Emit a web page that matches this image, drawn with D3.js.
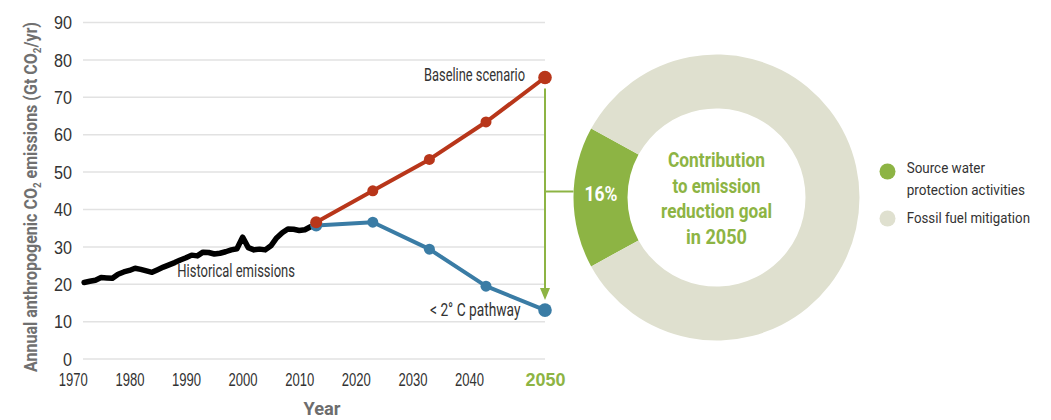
<!DOCTYPE html>
<html>
<head>
<meta charset="utf-8">
<script src="https://cdn.jsdelivr.net/npm/d3@7"></script>
<style>
  html, body { margin: 0; padding: 0; background: #fff; }
  svg { display: block; font-family: "Roboto", "Liberation Sans", sans-serif; }
</style>
</head>
<body>
<svg id="chart" width="1051" height="420"></svg>
<script>
// ---------------- DATA ----------------
const histYears = [1972,1973,1974,1975,1976,1977,1978,1979,1980,1981,1982,1983,1984,1985,1986,1987,1988,1989,1990,1991,1992,1993,1994,1995,1996,1997,1998,1999,2000,2001,2002,2003,2004,2005,2006,2007,2008,2009,2010,2011,2012];
const histValues = [20.5,20.8,21.1,21.8,21.7,21.6,22.7,23.3,23.7,24.3,24.0,23.6,23.2,23.9,24.6,25.2,25.8,26.5,27.1,27.8,27.6,28.6,28.5,28.1,28.3,28.7,29.2,29.5,32.6,29.8,29.2,29.4,29.2,30.3,32.4,33.8,34.8,34.7,34.4,34.6,35.4];
const projYears = [2013, 2023, 2033, 2043, 2050];
const baselineValues = [36.6, 45.0, 53.4, 63.4, 75.3];
const pathwayValues = [35.7, 36.6, 29.4, 19.5, 13.1];
const xTicks = [1970, 1980, 1990, 2000, 2010, 2020, 2030, 2040];
const xHighlightTick = 2050;
const yTicks = [0, 10, 20, 30, 40, 50, 60, 70, 80, 90];
const donutLabels = ["Source water protection activities", "Fossil fuel mitigation"];
const donutValues = [16, 84];
const centerLines = ["Contribution", "to emission", "reduction goal", "in 2050"];

// ---------------- STYLE ----------------
const RED = "#b8361a", BLUE = "#3a7ca5", GREEN = "#8db444", LIGHT = "#dfe0cf";
const svg = d3.select("#chart");
function fit(sel, w) { sel.attr("textLength", w).attr("lengthAdjust", "spacingAndGlyphs"); return sel; }

// scales: the chart compresses the axis after 2043 so that 2050 sits at the end
const x = d3.scaleLinear().domain([1970, 2043, 2050]).range([72.8, 486, 545]);
const y = d3.scaleLinear().domain([0, 90]).range([359.1, 22.5]);

// grid
const gridG = svg.append("g");
gridG.selectAll("line").data(yTicks).join("line")
  .attr("x1", 83).attr("x2", 545)
  .attr("y1", d => y(d)).attr("y2", d => y(d))
  .attr("stroke", "#e2e2e2").attr("stroke-width", 1.5);

// y axis labels
const yAxis = d3.axisLeft(y).tickValues(yTicks).tickSize(0).tickPadding(0);
const yG = svg.append("g").attr("transform", "translate(72,0)").call(yAxis);
yG.select(".domain").remove();
yG.selectAll("text").attr("font-size", 17.5).attr("fill", "#333").attr("font-family", null).attr("dy", "0.35em")
  .each(function(d) { fit(d3.select(this), String(d).length * 9); });

// x axis labels
const xAxis = d3.axisBottom(x).tickValues(xTicks.concat([xHighlightTick])).tickFormat(d3.format("d")).tickSize(0).tickPadding(0);
const xG = svg.append("g").attr("transform", "translate(0,380)").call(xAxis);
xG.select(".domain").remove();
xG.selectAll("text").attr("font-size", 18).attr("fill", "#333").attr("font-family", null).attr("dy", "0.35em")
  .each(function(d) { fit(d3.select(this), 29); });
xG.selectAll("text").filter(d => d === xHighlightTick).attr("fill", GREEN).attr("font-weight", "bold")
  .each(function() { fit(d3.select(this), 40); });

// axis titles
fit(svg.append("text").attr("x", 322).attr("y", 408).attr("dy", "0.35em").attr("text-anchor", "middle")
  .attr("font-size", 19).attr("font-weight", "bold").attr("fill", "#6d6d6d").text("Year"), 37);
const yt = svg.append("text").attr("transform", "translate(31,197) rotate(-90)").attr("dy", "0.35em")
  .attr("text-anchor", "middle").attr("font-size", 18).attr("font-weight", "bold").attr("fill", "#707070");
yt.append("tspan").text("Annual anthropogenic CO");
yt.append("tspan").attr("font-size", 11).attr("dy", "4").text("2");
yt.append("tspan").attr("dy", "-4").text(" emissions (Gt CO");
yt.append("tspan").attr("font-size", 11).attr("dy", "4").text("2");
yt.append("tspan").attr("dy", "-4").text("/yr)");
fit(yt, 350);

// lines
const line = d3.line().x(d => x(d[0])).y(d => y(d[1]));
const hist = histYears.map((yr, i) => [yr, histValues[i]]);
const base = projYears.map((yr, i) => [yr, baselineValues[i]]);
const path2 = projYears.map((yr, i) => [yr, pathwayValues[i]]);

svg.append("path").datum(hist).attr("d", line).attr("fill", "none")
  .attr("stroke", "#000").attr("stroke-width", 5.5).attr("stroke-linejoin", "round").attr("stroke-linecap", "round");

function series(data, color) {
  svg.append("path").datum(data).attr("d", line).attr("fill", "none")
    .attr("stroke", color).attr("stroke-width", 4).attr("stroke-linejoin", "round");
  svg.append("g").selectAll("circle").data(data).join("circle")
    .attr("cx", d => x(d[0])).attr("cy", d => y(d[1]))
    .attr("r", (d, i) => (i === data.length - 1 ? 6.8 : (i === 0 ? 6 : 5.5)))
    .attr("fill", color);
}
series(path2, BLUE);
series(base, RED);

// labels on lines
fit(svg.append("text").attr("x", 525).attr("y", 75).attr("dy", "0.35em").attr("text-anchor", "end")
  .attr("font-size", 18).attr("fill", "#333").text("Baseline scenario"), 101);
fit(svg.append("text").attr("x", 520.5).attr("y", 310).attr("dy", "0.35em").attr("text-anchor", "end")
  .attr("font-size", 18).attr("fill", "#333").text("< 2° C pathway"), 90.5);
fit(svg.append("text").attr("x", 177.3).attr("y", 271).attr("dy", "0.35em").attr("text-anchor", "start")
  .attr("font-size", 18).attr("fill", "#333").text("Historical emissions"), 117.7);

// green arrow
const lastX = x(projYears[projYears.length - 1]);
const yTop = y(baselineValues[baselineValues.length - 1]) + 11;
const yTip = y(pathwayValues[pathwayValues.length - 1]) - 10;
svg.append("line").attr("x1", lastX).attr("x2", lastX).attr("y1", yTop).attr("y2", yTip - 8)
  .attr("stroke", GREEN).attr("stroke-width", 2);
svg.append("path").attr("d", `M${lastX - 5},${yTip - 12} L${lastX + 5},${yTip - 12} L${lastX},${yTip} Z`).attr("fill", GREEN);

// donut
const cx = 716.5, cy = 197.5, R = 143, r = 89;
const half = donutValues[0] / 100 * Math.PI;
const pie = d3.pie().sort(null).value(d => d).startAngle(1.5 * Math.PI - half).endAngle(1.5 * Math.PI - half + 2 * Math.PI);
const arc = d3.arc().innerRadius(r).outerRadius(R);
const dg = svg.append("g").attr("transform", `translate(${cx},${cy})`);
dg.selectAll("path").data(pie(donutValues)).join("path")
  .attr("d", arc).attr("fill", (d, i) => [GREEN, LIGHT][i]);

// connector
svg.append("line").attr("x1", lastX).attr("x2", cx - R).attr("y1", 191.5).attr("y2", 191.5)
  .attr("stroke", GREEN).attr("stroke-width", 2);

// percent label
fit(dg.append("text").attr("x", -(R + r) / 2 + 0.5).attr("y", -4).attr("dy", "0.35em").attr("text-anchor", "middle")
  .attr("font-size", 20).attr("font-weight", "bold").attr("fill", "#fff").text(donutValues[0] + "%"), 33);

// center text
const centerW = [97, 88, 111, 61];
dg.append("g").selectAll("text").data(centerLines).join("text")
  .attr("x", 0).attr("y", (d, i) => -37.5 + i * 25.7).attr("dy", "0.35em").attr("text-anchor", "middle")
  .attr("font-size", 19.5).attr("font-weight", "bold").attr("fill", GREEN).text(d => d)
  .attr("textLength", (d, i) => centerW[i]).attr("lengthAdjust", "spacingAndGlyphs");

// legend
const lg = svg.append("g");
lg.append("circle").attr("cx", 887.5).attr("cy", 171.5).attr("r", 8).attr("fill", GREEN);
lg.append("circle").attr("cx", 887.5).attr("cy", 218.5).attr("r", 8).attr("fill", LIGHT);
fit(lg.append("text").attr("x", 906.7).attr("y", 168).attr("dy", "0.35em").attr("font-size", 15.5).attr("fill", "#333").text("Source water"), 78.3);
fit(lg.append("text").attr("x", 906.7).attr("y", 190).attr("dy", "0.35em").attr("font-size", 15.5).attr("fill", "#333").text("protection activities"), 118.3);
fit(lg.append("text").attr("x", 906.7).attr("y", 218).attr("dy", "0.35em").attr("font-size", 15.5).attr("fill", "#333").text(donutLabels[1]), 123.3);
</script>
</body>
</html>
